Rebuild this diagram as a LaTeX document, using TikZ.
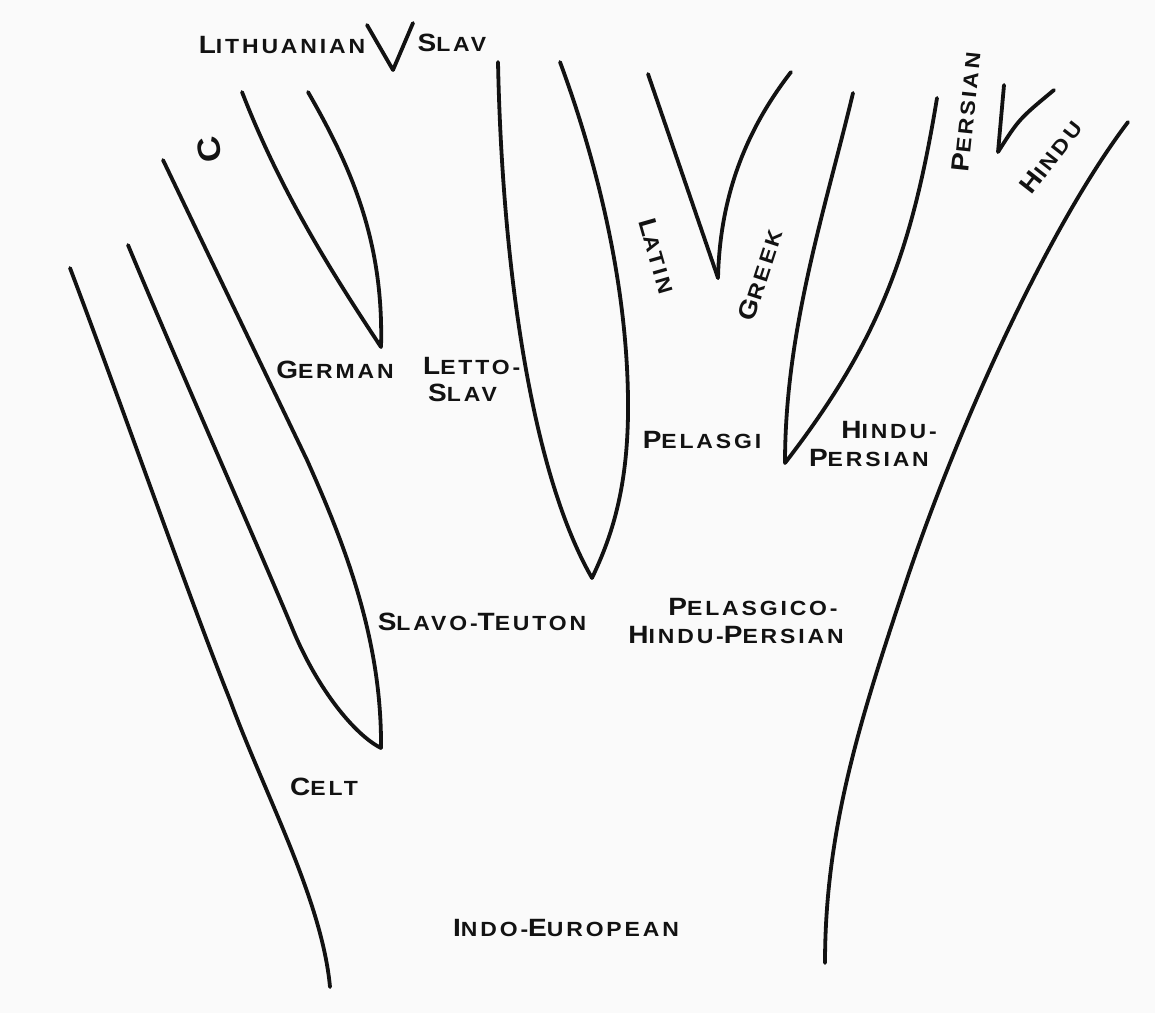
\documentclass[tikz,border=0pt]{standalone}
\usepackage{fontspec}
\newfontfamily\labfont[LetterSpace=14,FakeStretch=1.12]{Liberation Sans Bold}
\newcommand\cp[1]{{\fontsize{25}{25}\selectfont #1}}
\definecolor{ink}{HTML}{121212}
\definecolor{paper}{HTML}{FAFAFA}
\tikzset{
  branch/.style={draw=ink, line width=3.8pt, line cap=round, line join=round},
  lab/.style={inner sep=0pt, text=ink, font=\labfont\fontsize{20.5}{20.5}\selectfont},
}
\begin{document}
\begin{tikzpicture}[x=1pt,y=-1pt]
\fill[paper] (0,0) rectangle (1155,1013);
\useasboundingbox (0,0) rectangle (1155,1013);

% Celt outer line
\draw[branch] (70,268) .. controls (120,400) and (190,600) .. (230,700) .. controls (265,795) and (322,900) .. (330,987);
% Slavo-Teuton
\draw[branch] (128,245) .. controls (180,370) and (262,555) .. (293,630) .. controls (318,690) and (355,735) .. (381,748);
\draw[branch] (163,160) -- (307,460) .. controls (345,545) and (382,640) .. (381,748);
% German
\draw[branch] (242,92) .. controls (280,190) and (330,270) .. (381,347);
\draw[branch] (308,92) .. controls (350,165) and (384,240) .. (381,347);
% Lithuanian / Slav
\draw[branch] (367,25) -- (393,70) -- (413,23);
% Letto-Slav
\draw[branch] (498,62) .. controls (502,260) and (530,470) .. (592,578);
\draw[branch] (560,62) .. controls (600,170) and (627,290) .. (628,400) .. controls (629,490) and (610,540) .. (592,578);
% Latin / Greek
\draw[branch] (648,74) -- (718,278);
\draw[branch] (791,72) .. controls (750,125) and (720,190) .. (718,278);
% Hindu-Persian
\draw[branch] (853,93) .. controls (825,210) and (785,330) .. (785,463);
\draw[branch] (937,98) .. controls (912,250) and (880,340) .. (785,463);
% Persian / Hindu
\draw[branch] (1004,85) -- (998,152) .. controls (1019,119) .. (1054,90);
% outer right line
\draw[branch] (1128,122) .. controls (1050,225) and (960,420) .. (905,585) .. controls (860,720) and (825,830) .. (825,963);

% labels
\node[lab] (lith) at (282,45) {\cp{L}ITHUANIAN};
\node[lab] (slavtop) at (452,43) {\cp{S}LAV};
\node[lab] (german) at (335,370) {\cp{G}ERMAN};
\node[lab, anchor=west] (letto) at (423,366) {\cp{L}ETTO-};
\node[lab, anchor=west] (slavb) at (428,393) {\cp{S}LAV};
\node[lab] (pelasgi) at (702,440) {\cp{P}ELASGI};
\node[lab, anchor=east] (hinduA) at (937,430) {\cp{H}INDU-};
\node[lab, anchor=east] (persianA) at (929,458) {\cp{P}ERSIAN};
\node[lab] (slavoteuton) at (482,622) {\cp{S}LAVO-\cp{T}EUTON};
\node[lab] (pelasgico) at (753,607) {\cp{P}ELASGICO-};
\node[lab] (hindupersian) at (736,635) {\cp{H}INDU-\cp{P}ERSIAN};
\node[lab] (celt) at (324,787) {\cp{C}ELT};
\node[lab] (ie) at (566,928) {\cp{I}NDO-\cp{E}UROPEAN};
\node[lab, rotate=-74] (latin) at (657,256) {\cp{L}ATIN};
\node[lab, rotate=72] (greek) at (760,275) {\cp{G}REEK};
\node[lab, rotate=84] (persianB) at (966,112) {\cp{P}ERSIAN};
\node[lab, rotate=52] (hinduB) at (1051,157) {\cp{H}INDU};
\node[lab, rotate=100] (cmark) at (209,150) {{\fontsize{32}{32}\selectfont C}};
\end{tikzpicture}
\end{document}
